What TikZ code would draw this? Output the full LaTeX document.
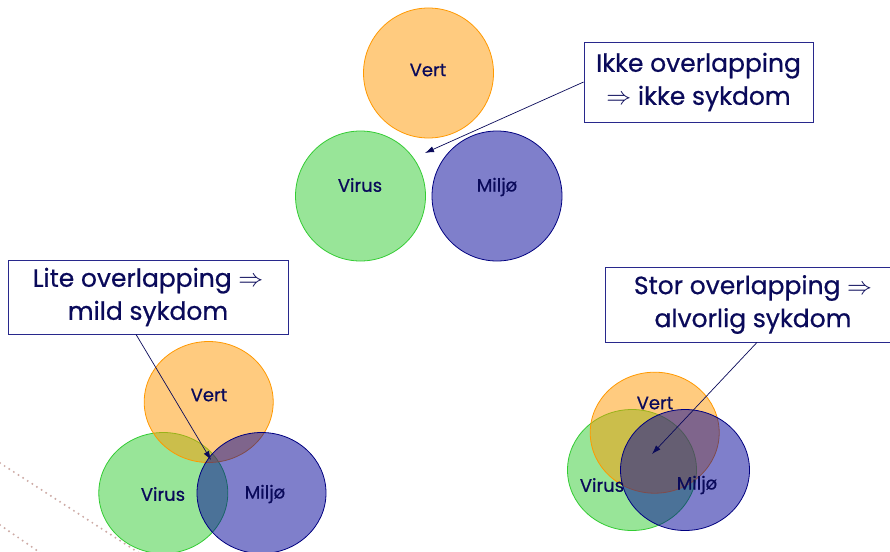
\documentclass[tikz,border=0pt]{standalone}
\usepackage{fontspec}
\setmainfont{Poppins}
\newfontfamily\heavyfont{Poppins}[FakeBold=0.6]
\usetikzlibrary{shapes.geometric,arrows.meta}
\definecolor{cvert}{RGB}{255,153,0}
\definecolor{cvirus}{RGB}{51,204,51}
\definecolor{cmiljo}{RGB}{0,0,153}
\definecolor{cmiljoedge}{RGB}{0,0,128}
\definecolor{ink}{RGB}{10,10,90}
\definecolor{boxedge}{RGB}{40,40,140}
\definecolor{dots}{RGB}{205,170,165}
\tikzset{
  blob/.style={ellipse, inner sep=0pt, fill opacity=0.5, line width=0.8pt},
  vert/.style={blob, draw=cvert, fill=cvert},
  virus/.style={blob, draw=cvirus, fill=cvirus},
  miljo/.style={blob, draw=cmiljoedge, fill=cmiljo},
  lab/.style={text=ink, font=\heavyfont\fontsize{18}{21}\selectfont, inner sep=0pt},
  callout/.style={draw=boxedge, fill=white, line width=0.8pt, text=ink, align=center,
    font=\heavyfont\fontsize{25}{33}\selectfont, inner sep=0pt},
  arr/.style={draw=ink, line width=0.7pt, -{Latex[length=9pt,width=6pt]}},
  bgdots/.style={draw=dots, line width=2.2pt, line cap=round, dash pattern=on 0pt off 5.5pt}
}
\begin{document}
\begin{tikzpicture}[x=1pt,y=-1pt]
\clip (0,0) rectangle (890,551);
\fill[white] (0,0) rectangle (890,551);
% background dots
\coordinate (d1a) at (0,463); \coordinate (d1b) at (150,560);
\coordinate (d2a) at (0,525); \coordinate (d2b) at (45,556);
\draw[bgdots] (d1a) -- (d1b);
\draw[bgdots] (d2a) -- (d2b);
% ---- top group
\node[virus, minimum width=130, minimum height=130] (v1) at (360.5,196) {};
\node[vert, minimum width=130, minimum height=130] (h1) at (428.5,73) {};
\node[miljo, minimum width=130, minimum height=130] (m1) at (497,196) {};
\node[lab] (h1l) at (428,70) {Vert};
\node[lab] (v1l) at (360,185) {Virus};
\node[lab] (m1l) at (497,187) {Miljø};
\node[callout, minimum width=229, minimum height=80] (tbox) at (698.5,82)
  {Ikke overlapping\\$\Rightarrow$ ikke sykdom};
\coordinate (tipA) at (425,153);
\draw[arr] (tbox.west) -- (tipA);
% ---- bottom-left group
\node[virus, minimum width=129, minimum height=121] (v2) at (163.3,493) {};
\node[vert, minimum width=129, minimum height=121] (h2) at (208.7,402) {};
\node[miljo, minimum width=129, minimum height=121] (m2) at (261.5,493) {};
\node[lab] (h2l) at (209,395) {Vert};
\node[lab] (v2l) at (163,494) {Virus};
\node[lab] (m2l) at (265,494) {Miljø};
\node[callout, minimum width=280, minimum height=74] (blbox) at (148,297)
  {Lite overlapping $\Rightarrow$\\mild sykdom};
\coordinate (tipB) at (211,460);
\draw[arr] ([xshift=-12pt]blbox.south) -- (tipB);
% ---- bottom-right group
\node[virus, minimum width=129, minimum height=121] (v3) at (632,470) {};
\node[vert, minimum width=129, minimum height=121] (h3) at (654.7,432.7) {};
\node[miljo, minimum width=129, minimum height=121] (m3) at (685,470) {};
\node[lab] (h3l) at (655,403) {Vert};
\node[lab] (v3l) at (602,485) {Virus};
\node[lab] (m3l) at (697,485) {Miljø};
\node[callout, minimum width=296, minimum height=75] (brbox) at (753,304.5)
  {Stor overlapping $\Rightarrow$\\alvorlig sykdom};
\coordinate (tipC) at (652,454);
\draw[arr] ([xshift=4pt]brbox.south) -- (tipC);
\end{tikzpicture}
\end{document}
